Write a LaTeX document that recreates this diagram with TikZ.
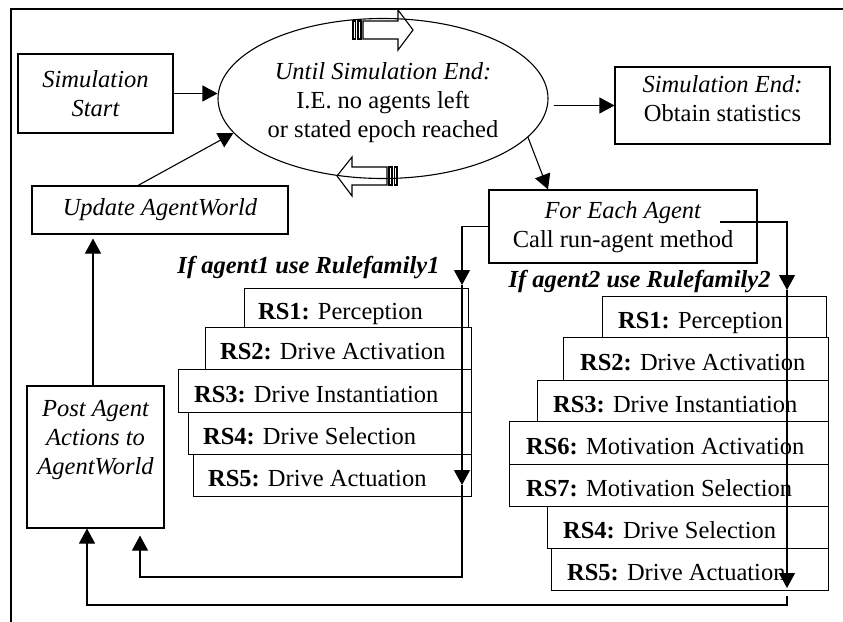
\documentclass[tikz,border=0pt]{standalone}
\usepackage{fontspec}
\setmainfont{Liberation Serif}
\usetikzlibrary{shapes.geometric,arrows.meta}
\begin{document}
\begin{tikzpicture}[x=1pt,y=-1pt,
  lw/.style={line width=1.1pt},
  arr/.style={line width=1.1pt,-{Triangle[length=15pt,width=16pt]}},
  box/.style={draw,line width=1.1pt,inner sep=0pt,rectangle},
  rsbox/.style={box,anchor=north east},
  txt/.style={font=\fontsize{24.5}{29}\selectfont,align=center,inner sep=0pt},
  ital/.style={font=\fontsize{24.5}{29}\selectfont\itshape,align=center,inner sep=0pt},
  rstext/.style={font=\fontsize{24.5}{29}\selectfont,inner sep=0pt,anchor=base west},
  famtitle/.style={font=\fontsize{24.5}{29}\selectfont\bfseries\itshape,inner sep=0pt,anchor=base}]

\useasboundingbox (0,0) rectangle (843,621);

% outer frame (only top and left edges fall inside the page)
\draw[lw] (11,630) -- (11,9) -- (850,9);

% main loop
\node[draw,lw,ellipse,minimum width=330pt,minimum height=160pt,inner sep=0pt] (loop) at (383,98.5) {};
\node[txt] (looptxt) at (383,103) {\textit{Until Simulation End:}\\I.E. no agents left\\or stated epoch reached};

% striped block arrows around the loop
\draw[lw] (353,21) rectangle (355.5,39);
\draw[lw] (358,21) rectangle (361,39);
\draw[lw] (363,21) -- (398,21) -- (398,10) -- (413,30) -- (398,50) -- (398,39) -- (363,39) -- cycle;
\draw[lw] (389,167) rectangle (392,185);
\draw[lw] (394.5,167) rectangle (397,185);
\draw[lw] (387,167) -- (352,167) -- (352,157) -- (337,176) -- (352,196) -- (352,185) -- (387,185) -- cycle;

% boxes
\node[box,minimum width=155pt,minimum height=79pt] (start) at (95.5,93.5) {};
\node[ital] (starttxt) at (95.5,93.5) {Simulation\\Start};

\node[box,minimum width=215pt,minimum height=77pt] (endb) at (722.5,105.5) {};
\node[txt] (endtxt) at (722.5,99) {\textit{Simulation End:}\\Obtain statistics};

\node[box,minimum width=256pt,minimum height=48pt] (upd) at (160,210) {};
\node[ital] (updtxt) at (160,210) {Update AgentWorld};

\node[box,minimum width=268pt,minimum height=73pt] (fe) at (623,226.5) {};
\node[txt] (fetxt) at (623,227) {\textit{For Each Agent}\\Call run-agent method};

\node[box,minimum width=137pt,minimum height=142pt] (post) at (95.5,457) {};
\node[ital] (posttxt) at (95.5,440) {Post Agent\\Actions to\\AgentWorld};

% rule family 1
\node[famtitle] (fam1) at (308.5,273) {If agent1 use Rulefamily1};
\node[rsbox,minimum width=224pt,minimum height=39pt] (a1) at (469,288) {};
\node[rsbox,minimum width=266pt,minimum height=42pt] (a2) at (472,327) {};
\node[rsbox,minimum width=293pt,minimum height=43pt] (a3) at (472,369) {};
\node[rsbox,minimum width=283pt,minimum height=42pt] (a4) at (472,412) {};
\node[rsbox,minimum width=278pt,minimum height=42pt] (a5) at (472,454) {};
\node[rstext] (a1t) at ([xshift=14pt,yshift=-11pt]a1.west) {\textbf{RS1:} Perception};
\node[rstext] (a2t) at ([xshift=15pt,yshift=-11pt]a2.west) {\textbf{RS2:} Drive Activation};
\node[rstext] (a3t) at ([xshift=16pt,yshift=-11pt]a3.west) {\textbf{RS3:} Drive Instantiation};
\node[rstext] (a4t) at ([xshift=15pt,yshift=-11pt]a4.west) {\textbf{RS4:} Drive Selection};
\node[rstext] (a5t) at ([xshift=15pt,yshift=-11pt]a5.west) {\textbf{RS5:} Drive Actuation};

% rule family 2
\node[famtitle] (fam2) at (639.5,287) {If agent2 use Rulefamily2};
\node[rsbox,minimum width=224pt,minimum height=41pt] (b1) at (827,296) {};
\node[rsbox,minimum width=265pt,minimum height=43pt] (b2) at (829,337) {};
\node[rsbox,minimum width=291pt,minimum height=41pt] (b3) at (829,380) {};
\node[rsbox,minimum width=319pt,minimum height=43pt] (b6) at (829,421) {};
\node[rsbox,minimum width=319pt,minimum height=42pt] (b7) at (829,464) {};
\node[rsbox,minimum width=281pt,minimum height=42pt] (b4) at (829,506) {};
\node[rsbox,minimum width=277pt,minimum height=42pt] (b5) at (829,548) {};
\node[rstext] (b1t) at ([xshift=16pt,yshift=-11pt]b1.west) {\textbf{RS1:} Perception};
\node[rstext] (b2t) at ([xshift=17pt,yshift=-11pt]b2.west) {\textbf{RS2:} Drive Activation};
\node[rstext] (b3t) at ([xshift=16pt,yshift=-11pt]b3.west) {\textbf{RS3:} Drive Instantiation};
\node[rstext] (b6t) at ([xshift=17pt,yshift=-11pt]b6.west) {\textbf{RS6:} Motivation Activation};
\node[rstext] (b7t) at ([xshift=17pt,yshift=-11pt]b7.west) {\textbf{RS7:} Motivation Selection};
\node[rstext] (b4t) at ([xshift=16pt,yshift=-11pt]b4.west) {\textbf{RS4:} Drive Selection};
\node[rstext] (b5t) at ([xshift=16pt,yshift=-11pt]b5.west) {\textbf{RS5:} Drive Actuation};

% connectors of the main loop
\draw[arr] (start.east) -- (start.east -| loop.west);
\coordinate (loopout) at ([xshift=5pt]loop.east);
\draw[arr] (loopout |- endb.west) -- (endb.west);
\draw[arr] ([xshift=-22pt]upd.north) -- (loop.193);
\draw[arr] (loop.345) -- ([xshift=-75pt]fe.north);
\draw[arr,shorten >=4pt] ([xshift=-2.5pt]post.north) -- ([xshift=-2.5pt]post.north |- upd.south);

% route through rule family 1
\coordinate (l1) at (462,285);
\coordinate (l2) at (462,485);
\coordinate (l4) at (140,577);
\draw[arr] (fe.west) -| (l1);
\draw[arr] (l1) -- (l2);
\draw[arr,shorten >=7pt] (l2) |- (l4) -- (l4 |- post.south);

% route through rule family 2
\coordinate (r0) at (720,222);
\coordinate (r1) at (787,290);
\coordinate (r2) at (787,588);
\coordinate (r3) at (787,596);
\coordinate (r4) at (87,605);
\draw[arr] (r0) -| (r1);
\draw[arr] (r1) -- (r2);
\draw[arr] (r3) |- (r4) -- (r4 |- post.south);
\end{tikzpicture}
\end{document}
